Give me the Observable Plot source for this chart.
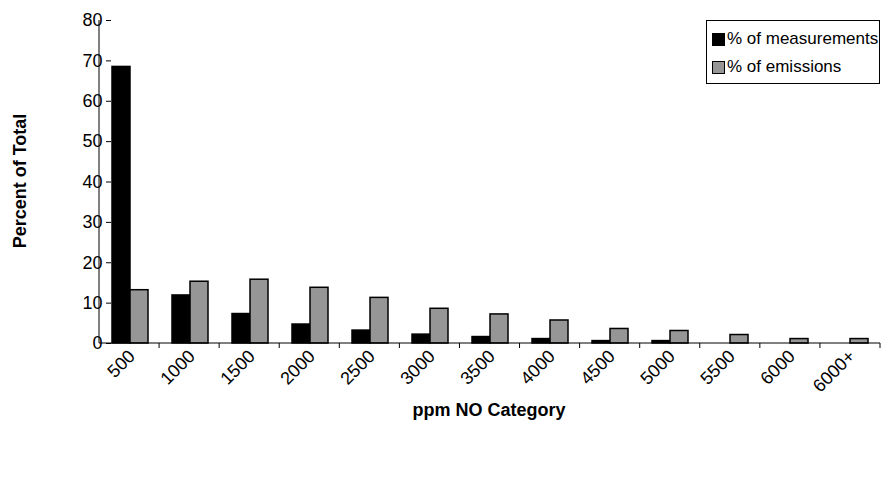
<!DOCTYPE html>
<html><head><meta charset="utf-8">
<script src="https://cdn.jsdelivr.net/npm/d3@7"></script>
<script src="https://cdn.jsdelivr.net/npm/@observablehq/plot@0.6"></script>
<style>
body{margin:0;background:#fff;font-family:"Liberation Sans",Arial,sans-serif}
#wrap{position:relative;width:894px;height:483px}
#legend{position:absolute;left:706px;top:20px;width:174px;height:64px;border:1px solid #000;background:#fff;font-size:17px;white-space:nowrap;box-sizing:border-box}
#legend div{display:flex;align-items:center;margin:8px 0 0 5px}
#legend span{display:inline-block;flex-shrink:0;width:11px;height:11px;border:1px solid #000;margin-right:2px}
</style></head><body>
<div id="wrap"><div id="chart"></div>
<div id="legend"><div><span style="background:#000"></span>% of measurements</div><div><span style="background:#969696"></span>% of emissions</div></div></div>
<script>
const categories = ["500","1000","1500","2000","2500","3000","3500","4000","4500","5000","5500","6000","6000+"];
const measurements = [68.5,11.9,7.3,4.7,3.2,2.2,1.6,1.1,0.6,0.6,0,0,0];
const emissions = [13.2,15.3,15.8,13.8,11.3,8.6,7.2,5.7,3.6,3.1,2.1,1.1,1.1];
const series = ["% of measurements","% of emissions"];

const rows = categories.flatMap((c, i) => [
  {cat: c, s: series[0], v: measurements[i]},
  {cat: c, s: series[1], v: emissions[i]}
]).filter(d => d.v > 0);

const chart = Plot.plot({
  width: 894, height: 483,
  marginTop: 20, marginBottom: 140, marginLeft: 99, marginRight: 14,
  style: {fontFamily: "Liberation Sans, Arial, sans-serif", fontSize: "18px", color: "#000"},
  fx: {domain: categories, paddingInner: 0.38, paddingOuter: 0.19, label: null, axis: null},
  x: {domain: series, axis: null, padding: 0},
  y: {domain: [0, 80], ticks: d3.range(0, 81, 10), label: null},
  color: {domain: series, range: ["#000", "#969696"]},
  marks: [
    Plot.barY(rows, {fx: "cat", x: "s", y: "v", fill: "s", stroke: "#000", strokeWidth: 1.5, inset: 0}),
    Plot.axisY({ticks: d3.range(0, 81, 10), tickSize: 5, fontSize: 18, label: null}),
    Plot.axisFx({domain: categories, anchor: "bottom", tickRotate: -45, tickSize: 0, fontSize: 18, textAnchor: "end", dy: -2, dx: 2, label: null})
  ]
});
d3.select('#chart').append(() => chart);

const svg = d3.select(chart);
const y0 = 343, x0 = 99, x1 = 880;
svg.append("line").attr("x1", x0).attr("x2", x0).attr("y1", 20).attr("y2", y0).attr("stroke", "#000");
svg.append("line").attr("x1", x0).attr("x2", x1).attr("y1", y0).attr("y2", y0).attr("stroke", "#000");
const step = (x1 - x0) / categories.length;
categories.forEach((c, i) => {
  const x = x0 + step * (i + 1);
  svg.append("line").attr("x1", x).attr("x2", x).attr("y1", y0).attr("y2", y0 + 5).attr("stroke", "#000");
});
svg.append("text").attr("transform", "translate(26,181) rotate(-90)").attr("text-anchor", "middle")
  .attr("font-weight", "bold").attr("font-size", 18).text("Percent of Total");
svg.append("text").attr("x", 489).attr("y", 416).attr("text-anchor", "middle")
  .attr("font-weight", "bold").attr("font-size", 18).text("ppm NO Category");
</script></body></html>
